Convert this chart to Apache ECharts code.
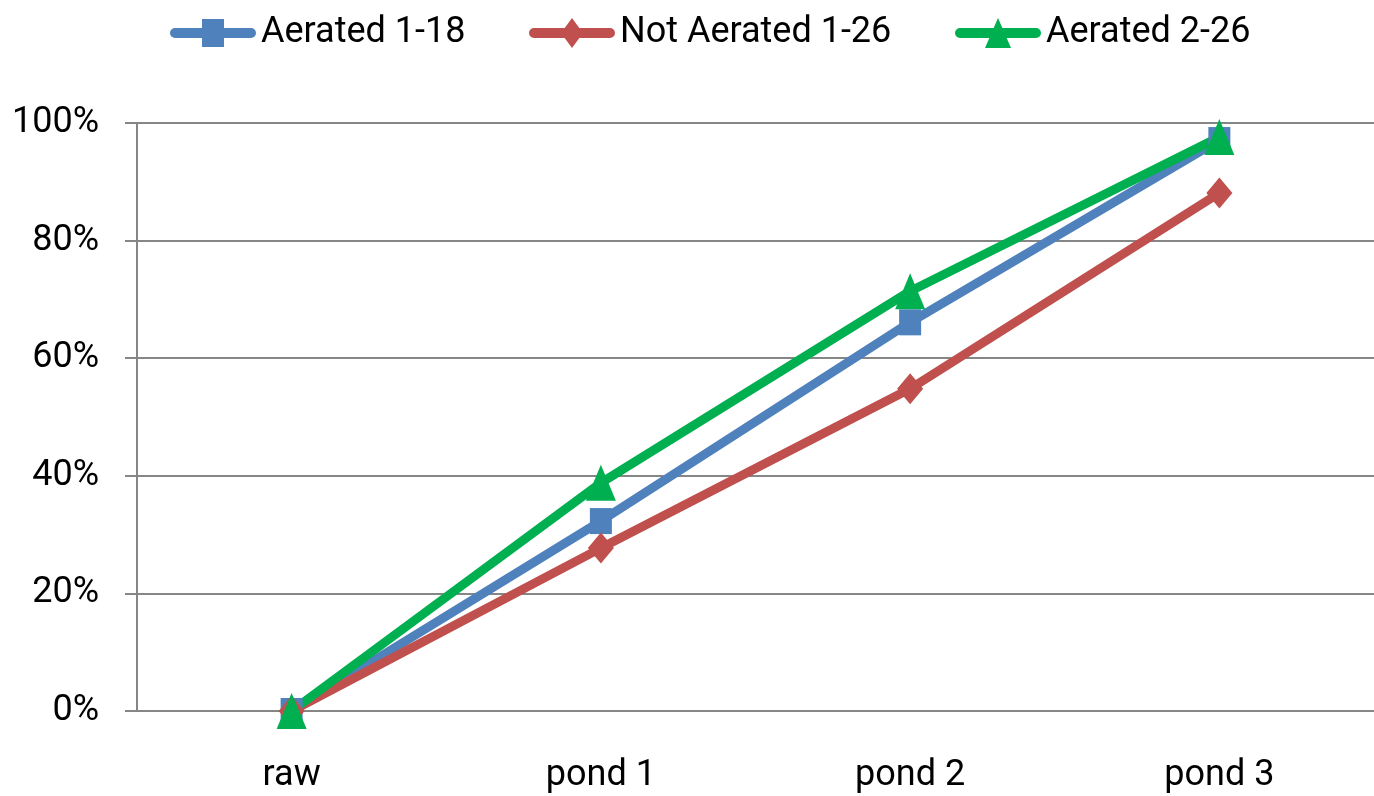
<!DOCTYPE html>
<html><head><meta charset="utf-8">
<script src="https://cdn.jsdelivr.net/npm/echarts@6/dist/echarts.min.js"></script>
<style>html,body{margin:0;padding:0;background:#fff}#c{width:1374px;height:796px}</style>
</head><body><div id="c"></div>
<script>
const categories = ['raw', 'pond 1', 'pond 2', 'pond 3'];
const aerated118 = [0, 0.323, 0.661, 0.971];
const notAerated126 = [0, 0.277, 0.548, 0.881];
const aerated226 = [0, 0.388, 0.714, 0.976];
const seriesNames = ['Aerated 1-18', 'Not Aerated 1-26', 'Aerated 2-26'];
const colors = ['#4F81BD', '#C0504D', '#00B050'];

const FONT = "Roboto, 'Noto Sans', sans-serif";
const chart = echarts.init(document.getElementById('c'), null, {renderer: 'canvas'});

// legend icons: bar + marker (shapes only, positions set by legend layout)
const icons = [
  'path://M5 9 L81 9 A5 5 0 0 1 81 19 L5 19 A5 5 0 0 1 5 9 Z M32 0 L54 0 L54 28 L32 28 Z',
  'path://M5 10 L81 10 A5 5 0 0 1 81 20 L5 20 A5 5 0 0 1 5 10 Z M43 0 L54 15 L43 30 L32 15 Z',
  'path://M5 10 L81 10 A5 5 0 0 1 81 20 L5 20 A5 5 0 0 1 5 10 Z M43 0 L56 30 L30 30 Z'
];
const legendLefts = [165, 524, 950];
const legendHeights = [28, 30, 30];

function mkLegend(i) {
  return {
    top: 10, left: legendLefts[i], itemWidth: 86, itemHeight: legendHeights[i],
    selectedMode: false,
    itemStyle: {borderWidth: 0},
    textStyle: {fontFamily: FONT, fontSize: 36, color: '#000'},
    data: [{name: seriesNames[i], icon: icons[i]}]
  };
}
function mk(i, data, symbol, size) {
  return {
    name: seriesNames[i], type: 'line', data, symbol, symbolSize: size,
    lineStyle: {color: colors[i], width: 9}, itemStyle: {color: colors[i]},
    emphasis: {disabled: true}, animation: false, z: 3
  };
}
chart.setOption({
  animation: false,
  legend: [mkLegend(0), mkLegend(1), mkLegend(2)],
  grid: {left: 137, right: -5, top: 123, bottom: 85},
  xAxis: {
    type: 'category', data: categories, boundaryGap: true,
    axisLine: {lineStyle: {color: '#868686', width: 2}},
    axisTick: {length: 16, lineStyle: {color: '#868686', width: 2}},
    axisLabel: {fontFamily: FONT, fontSize: 36, color: '#000', margin: 47}
  },
  yAxis: {
    type: 'value', min: 0, max: 1, interval: 0.2,
    axisLine: {show: true, lineStyle: {color: '#868686', width: 2}},
    axisTick: {show: true, length: 12, lineStyle: {color: '#868686', width: 2}},
    splitLine: {lineStyle: {color: '#868686', width: 2}},
    axisLabel: {fontFamily: FONT, fontSize: 36, color: '#000', margin: 38,
      formatter: v => Math.round(v * 100) + '%'}
  },
  series: [
    mk(0, aerated118, 'rect', [22, 26]),
    mk(1, notAerated126, 'diamond', [26, 31]),
    mk(2, aerated226, 'triangle', [30, 36])
  ]
});
</script></body></html>
